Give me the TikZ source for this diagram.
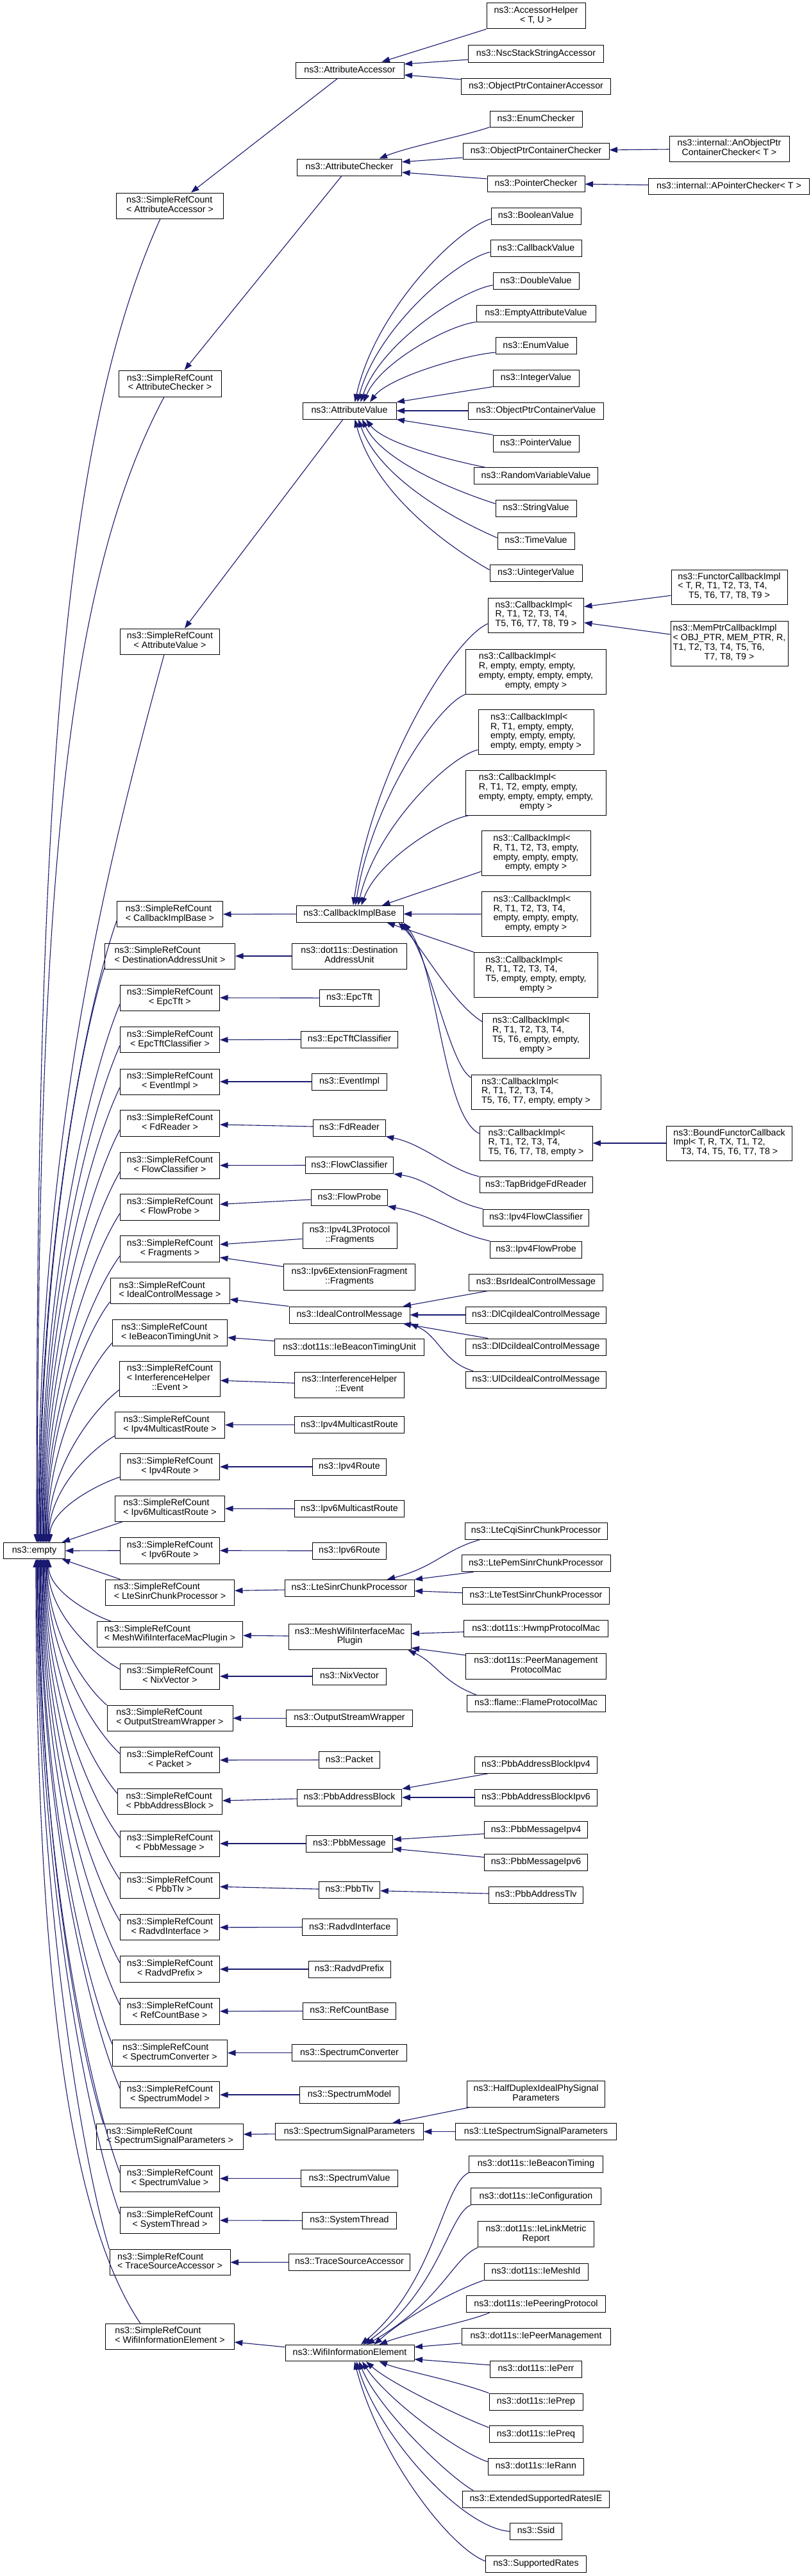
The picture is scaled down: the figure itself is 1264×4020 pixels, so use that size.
\documentclass[tikz,border=0pt]{standalone}
\usepackage{fontspec}
\setmainfont{Liberation Sans}
\usetikzlibrary{arrows.meta}
\definecolor{mblue}{RGB}{25,25,112}
\newcommand{\lbl}[2]{\begin{tabular}{@{}l@{}}#1\\\multicolumn{1}{@{}c@{}}{#2}\end{tabular}}
\tikzset{
  bx/.style 2 args={draw=black,line width=1pt,fill=white,inner sep=0pt,minimum width=#1,minimum height=#2,font=\fontsize{14.2}{14.8}\selectfont,text height=10.2pt,text depth=3pt},
  mx/.style 2 args={draw=black,line width=1pt,fill=white,inner sep=0pt,minimum width=#1,minimum height=#2,font=\fontsize{14.2}{14.8}\selectfont},
  ed/.style={draw=mblue,line width=1.1pt,-{Triangle[length=12.5pt,width=9pt]}}
}
\begin{document}
\begin{tikzpicture}[x=1pt,y=-1pt]
\fill[white] (0,0) rectangle (1264,4020);
\useasboundingbox (0,0) rectangle (1264,4020);

% ---------- nodes ----------
\node[mx={154}{40}] (AccH) at (836,25) {\lbl{ns3::AccessorHelper}{< T, U >}};
\node[bx={211}{26}] (Nsc) at (836,84) {ns3::NscStackStringAccessor};
\node[bx={233}{25}] (OPCA) at (836,134.5) {ns3::ObjectPtrContainerAccessor};
\node[bx={169}{25}] (AA) at (545.5,109.5) {ns3::AttributeAccessor};
\node[bx={144}{25}] (EnumC) at (836,185.5) {ns3::EnumChecker};
\node[bx={228}{25}] (OPCC) at (836,235.5) {ns3::ObjectPtrContainerChecker};
\node[mx={187}{40}] (AnOPCC) at (1137.5,232) {\lbl{ns3::internal::AnObjectPtr}{ContainerChecker< T >}};
\node[bx={163}{26}] (AC) at (545,261) {ns3::AttributeChecker};
\node[bx={152}{25}] (PtrC) at (836,286.5) {ns3::PointerChecker};
\node[bx={251}{25}] (APtrC) at (1137,290.5) {ns3::internal::APointerChecker< T >};
\node[mx={167}{40}] (sAA) at (265,321) {\lbl{ns3::SimpleRefCount}{< AttributeAccessor >}};

\node[bx={140}{26}] (BoolV) at (836,337) {ns3::BooleanValue};
\node[bx={142}{26}] (CbV) at (836,387.7) {ns3::CallbackValue};
\node[bx={134}{26}] (DblV) at (836,438.5) {ns3::DoubleValue};
\node[bx={186}{26}] (EmptyAV) at (836,489) {ns3::EmptyAttributeValue};
\node[bx={126}{26}] (EnumV) at (836,539.7) {ns3::EnumValue};
\node[bx={134}{26}] (IntV) at (836,590) {ns3::IntegerValue};
\node[bx={211}{26}] (OPCV) at (836,641) {ns3::ObjectPtrContainerValue};
\node[bx={146}{26}] (AV) at (545,641) {ns3::AttributeValue};
\node[mx={160}{41}] (sAC) at (265,598.5) {\lbl{ns3::SimpleRefCount}{< AttributeChecker >}};
\node[bx={134}{26}] (PtrV) at (836,692) {ns3::PointerValue};
\node[bx={193}{26}] (RVV) at (836,742.7) {ns3::RandomVariableValue};
\node[bx={126}{26}] (StrV) at (836,793) {ns3::StringValue};
\node[bx={120}{26}] (TimeV) at (836,844) {ns3::TimeValue};
\node[bx={144}{26}] (UIntV) at (836,894) {ns3::UintegerValue};

\node[mx={181}{54}] (Functor) at (1137.5,916) {\lbl{ns3::FunctorCallbackImpl\\< T, R, T1, T2, T3, T4,}{T5, T6, T7, T8, T9 >}};
\node[mx={149}{54}] (CbT9) at (836,960) {\lbl{ns3::CallbackImpl<\\ R, T1, T2, T3, T4,}{T5, T6, T7, T8, T9 >}};
\node[mx={183}{70}] (MemPtr) at (1137.5,1004) {\lbl{ns3::MemPtrCallbackImpl\\< OBJ\_PTR, MEM\_PTR, R,\\T1, T2, T3, T4, T5, T6,}{T7, T8, T9 >}};
\node[mx={155}{40}] (sAV) at (265,1001) {\lbl{ns3::SimpleRefCount}{< AttributeValue >}};
\node[mx={219}{70}] (CbE0) at (836,1048) {\lbl{ns3::CallbackImpl<\\ R, empty, empty, empty,\\ empty, empty, empty, empty,}{empty, empty >}};
\node[mx={180}{70}] (CbE1) at (836,1142.5) {\lbl{ns3::CallbackImpl<\\ R, T1, empty, empty,\\ empty, empty, empty,}{empty, empty, empty >}};
\node[mx={219}{70}] (CbE2) at (836,1237) {\lbl{ns3::CallbackImpl<\\ R, T1, T2, empty, empty,\\ empty, empty, empty, empty,}{empty >}};
\node[mx={170}{70}] (CbE3) at (836,1331.7) {\lbl{ns3::CallbackImpl<\\ R, T1, T2, T3, empty,\\ empty, empty, empty,}{empty, empty >}};
\node[mx={165}{40}] (sCIB) at (265,1426.7) {\lbl{ns3::SimpleRefCount}{< CallbackImplBase >}};
\node[bx={167}{26}] (CIB) at (545.5,1426.3) {ns3::CallbackImplBase};
\node[mx={170}{70}] (CbE4) at (836,1426.5) {\lbl{ns3::CallbackImpl<\\ R, T1, T2, T3, T4,\\ empty, empty, empty,}{empty, empty >}};
\node[mx={203}{40}] (sDAU) at (265,1492) {\lbl{ns3::SimpleRefCount}{< DestinationAddressUnit >}};
\node[mx={179.5}{40}] (DAU) at (545,1492) {\lbl{ns3::dot11s::Destination}{AddressUnit}};
\node[mx={193}{70}] (CbE5) at (836,1521.3) {\lbl{ns3::CallbackImpl<\\ R, T1, T2, T3, T4,\\ T5, empty, empty, empty,}{empty >}};
\node[mx={155}{40}] (sEpcTft) at (265,1557) {\lbl{ns3::SimpleRefCount}{< EpcTft >}};
\node[bx={92.5}{25.5}] (EpcTft) at (545,1557.3) {ns3::EpcTft};
\node[mx={167}{70}] (CbE6) at (836,1616) {\lbl{ns3::CallbackImpl<\\ R, T1, T2, T3, T4,\\ T5, T6, empty, empty,}{empty >}};
\node[mx={155}{40}] (sEpcTftC) at (265,1622.7) {\lbl{ns3::SimpleRefCount}{< EpcTftClassifier >}};
\node[bx={151}{26}] (EpcTftC) at (545,1622.2) {ns3::EpcTftClassifier};
\node[mx={155}{40}] (sEvent) at (265,1688) {\lbl{ns3::SimpleRefCount}{< EventImpl >}};
\node[bx={117}{26}] (EventImpl) at (545,1688) {ns3::EventImpl};
\node[mx={202}{54}] (CbE7) at (836,1704) {\lbl{ns3::CallbackImpl<\\ R, T1, T2, T3, T4,}{T5, T6, T7, empty, empty >}};
\node[mx={155}{41}] (sFd) at (265,1753) {\lbl{ns3::SimpleRefCount}{< FdReader >}};
\node[bx={112.5}{26}] (FdReader) at (545,1760) {ns3::FdReader};
\node[mx={176}{54}] (CbE8) at (836,1784) {\lbl{ns3::CallbackImpl<\\ R, T1, T2, T3, T4,}{T5, T6, T7, T8, empty >}};
\node[mx={196}{54}] (BoundF) at (1137.6,1784) {\lbl{ns3::BoundFunctorCallback\\Impl< T, R, TX, T1, T2,}{T3, T4, T5, T6, T7, T8 >}};
\node[mx={155}{41}] (sFlowC) at (265,1818.7) {\lbl{ns3::SimpleRefCount}{< FlowClassifier >}};
\node[bx={137.5}{26}] (FlowC) at (545,1818.5) {ns3::FlowClassifier};
\node[bx={176}{25}] (TapBridge) at (836,1849) {ns3::TapBridgeFdReader};
\node[mx={155}{41}] (sFlowP) at (265,1883.7) {\lbl{ns3::SimpleRefCount}{< FlowProbe >}};
\node[bx={118.5}{25}] (FlowP) at (545,1869.3) {ns3::FlowProbe};
\node[bx={164.5}{26}] (Ipv4FlowC) at (836,1900) {ns3::Ipv4FlowClassifier};
\node[mx={147}{40}] (Ipv4L3F) at (545.5,1928) {\lbl{ns3::Ipv4L3Protocol}{::Fragments}};
\node[mx={155}{41}] (sFrag) at (265,1949) {\lbl{ns3::SimpleRefCount}{< Fragments >}};
\node[bx={143.6}{26}] (Ipv4FlowP) at (836,1950) {ns3::Ipv4FlowProbe};
\node[mx={204.5}{40.5}] (Ipv6EF) at (545,1993) {\lbl{ns3::Ipv6ExtensionFragment}{::Fragments}};
\node[bx={208.5}{26}] (BsrICM) at (836,2001) {ns3::BsrIdealControlMessage};
\node[mx={186}{40}] (sICM) at (265,2014.5) {\lbl{ns3::SimpleRefCount}{< IdealControlMessage >}};
\node[bx={188}{26}] (ICM) at (545,2052) {ns3::IdealControlMessage};
\node[bx={219}{26}] (DlCqi) at (836,2052) {ns3::DlCqiIdealControlMessage};
\node[mx={179}{41}] (sIBTU) at (265,2079.7) {\lbl{ns3::SimpleRefCount}{< IeBeaconTimingUnit >}};
\node[bx={232.5}{26}] (IBTU) at (545,2102.5) {ns3::dot11s::IeBeaconTimingUnit};
\node[bx={219}{26}] (DlDci) at (836,2102) {ns3::DlDciIdealControlMessage};
\node[bx={219}{26}] (UlDci) at (836,2153) {ns3::UlDciIdealControlMessage};
\node[mx={156.5}{55}] (sIHE) at (265,2151.8) {\lbl{ns3::SimpleRefCount\\< InterferenceHelper}{::Event >}};
\node[mx={171.5}{40}] (IHE) at (545,2161) {\lbl{ns3::InterferenceHelper}{::Event}};
\node[mx={171}{41}] (sIpv4MR) at (265,2223.7) {\lbl{ns3::SimpleRefCount}{< Ipv4MulticastRoute >}};
\node[bx={171.5}{26}] (Ipv4MR) at (545,2223.7) {ns3::Ipv4MulticastRoute};
\node[mx={155}{41}] (sIpv4R) at (265,2289) {\lbl{ns3::SimpleRefCount}{< Ipv4Route >}};
\node[bx={115}{26}] (Ipv4R) at (545,2289) {ns3::Ipv4Route};
\node[mx={171}{40}] (sIpv6MR) at (265,2354.3) {\lbl{ns3::SimpleRefCount}{< Ipv6MulticastRoute >}};
\node[bx={171.5}{26}] (Ipv6MR) at (545,2354.5) {ns3::Ipv6MulticastRoute};
\node[bx={222}{26}] (LteCqi) at (836,2389) {ns3::LteCqiSinrChunkProcessor};
\node[bx={95.6}{25.5}] (empty) at (53.5,2420) {ns3::empty};
\node[mx={155}{41}] (sIpv6R) at (265,2419.7) {\lbl{ns3::SimpleRefCount}{< Ipv6Route >}};
\node[bx={115}{26}] (Ipv6R) at (545,2420) {ns3::Ipv6Route};
\node[bx={232}{26}] (LtePem) at (836,2439.7) {ns3::LtePemSinrChunkProcessor};
\node[mx={201}{40}] (sLSCP) at (265,2485) {\lbl{ns3::SimpleRefCount}{< LteSinrChunkProcessor >}};
\node[bx={202}{26}] (LSCP) at (545,2478.3) {ns3::LteSinrChunkProcessor};
\node[bx={228.5}{26}] (LteTest) at (836,2490) {ns3::LteTestSinrChunkProcessor};
\node[mx={227.5}{40}] (sMWIMP) at (265,2550.5) {\lbl{ns3::SimpleRefCount}{< MeshWifiInterfaceMacPlugin >}};
\node[mx={191}{40}] (MWIMP) at (545.5,2554.5) {\lbl{ns3::MeshWifiInterfaceMac}{Plugin}};
\node[bx={224.5}{26}] (Hwmp) at (836,2541.5) {ns3::dot11s::HwmpProtocolMac};
\node[mx={219}{40}] (PMPM) at (836,2600) {\lbl{ns3::dot11s::PeerManagement}{ProtocolMac}};
\node[mx={155}{40}] (sNix) at (265,2616) {\lbl{ns3::SimpleRefCount}{< NixVector >}};
\node[bx={115}{26}] (Nix) at (545,2616) {ns3::NixVector};
\node[bx={216}{26}] (Flame) at (836,2658.3) {ns3::flame::FlameProtocolMac};
\node[mx={196}{40}] (sOSW) at (265,2681.3) {\lbl{ns3::SimpleRefCount}{< OutputStreamWrapper >}};
\node[bx={197.5}{25.5}] (OSW) at (545,2681.3) {ns3::OutputStreamWrapper};
\node[mx={155}{40}] (sPacket) at (265,2746.7) {\lbl{ns3::SimpleRefCount}{< Packet >}};
\node[bx={95.5}{25.5}] (Packet) at (545,2746.5) {ns3::Packet};
\node[bx={191.5}{26}] (PABv4) at (836,2754.3) {ns3::PbbAddressBlockIpv4};
\node[mx={163}{40}] (sPAB) at (265,2811.8) {\lbl{ns3::SimpleRefCount}{< PbbAddressBlock >}};
\node[bx={163.5}{26}] (PAB) at (545,2805) {ns3::PbbAddressBlock};
\node[bx={191.5}{26}] (PABv6) at (836,2805) {ns3::PbbAddressBlockIpv6};
\node[bx={160.5}{26}] (PMv4) at (836,2855.7) {ns3::PbbMessageIpv4};
\node[mx={155}{40}] (sPM) at (265,2877) {\lbl{ns3::SimpleRefCount}{< PbbMessage >}};
\node[bx={135.5}{26}] (PM) at (545,2877) {ns3::PbbMessage};
\node[bx={160.5}{26}] (PMv6) at (836,2906.3) {ns3::PbbMessageIpv6};
\node[mx={155}{40}] (sPbbTlv) at (265,2942.5) {\lbl{ns3::SimpleRefCount}{< PbbTlv >}};
\node[bx={95.5}{26}] (PbbTlv) at (545,2949) {ns3::PbbTlv};
\node[bx={147.5}{26}] (PATlv) at (836,2957) {ns3::PbbAddressTlv};
\node[mx={155}{40}] (sRadvdI) at (265,3007.8) {\lbl{ns3::SimpleRefCount}{< RadvdInterface >}};
\node[bx={148.5}{26}] (RadvdI) at (545.7,3007.5) {ns3::RadvdInterface};
\node[mx={155}{41}] (sRadvdP) at (265,3073) {\lbl{ns3::SimpleRefCount}{< RadvdPrefix >}};
\node[bx={128}{26}] (RadvdP) at (545,3073) {ns3::RadvdPrefix};
\node[mx={155}{41}] (sRCB) at (265,3138.7) {\lbl{ns3::SimpleRefCount}{< RefCountBase >}};
\node[bx={144.5}{26}] (RCB) at (545,3138.3) {ns3::RefCountBase};
\node[mx={179}{41}] (sSC) at (265,3203.7) {\lbl{ns3::SimpleRefCount}{< SpectrumConverter >}};
\node[bx={179.5}{26}] (SC) at (545,3203.7) {ns3::SpectrumConverter};
\node[mx={155}{41}] (sSM) at (265,3269) {\lbl{ns3::SimpleRefCount}{< SpectrumModel >}};
\node[bx={155.5}{26}] (SM) at (545,3269) {ns3::SpectrumModel};
\node[mx={215.5}{41}] (HalfDup) at (836,3267.7) {\lbl{ns3::HalfDuplexIdealPhySignal}{Parameters}};
\node[mx={228.5}{40}] (sSSP) at (265,3334.5) {\lbl{ns3::SimpleRefCount}{< SpectrumSignalParameters >}};
\node[bx={230.5}{26}] (SSP) at (545,3326.5) {ns3::SpectrumSignalParameters};
\node[bx={250.5}{26}] (LteSSP) at (836,3326.5) {ns3::LteSpectrumSignalParameters};
\node[bx={208.5}{26}] (IeBT) at (836,3377) {ns3::dot11s::IeBeaconTiming};
\node[mx={155}{41}] (sSV) at (265,3399.7) {\lbl{ns3::SimpleRefCount}{< SpectrumValue >}};
\node[bx={151.5}{26}] (SV) at (545,3399.7) {ns3::SpectrumValue};
\node[bx={202.5}{26}] (IeConf) at (836,3427.7) {ns3::dot11s::IeConfiguration};
\node[mx={155}{41}] (sST) at (265,3465) {\lbl{ns3::SimpleRefCount}{< SystemThread >}};
\node[bx={147.5}{26}] (ST) at (545,3465.3) {ns3::SystemThread};
\node[mx={180.5}{40}] (IeLMR) at (836,3486.8) {\lbl{ns3::dot11s::IeLinkMetric}{Report}};
\node[mx={188}{40}] (sTSA) at (265,3530.5) {\lbl{ns3::SimpleRefCount}{< TraceSourceAccessor >}};
\node[bx={189.5}{26}] (TSA) at (545,3530.3) {ns3::TraceSourceAccessor};
\node[bx={162}{26}] (IeMeshId) at (836,3545) {ns3::dot11s::IeMeshId};
\node[bx={216.3}{26}] (IePP) at (836,3595.7) {ns3::dot11s::IePeeringProtocol};
\node[mx={200.5}{40}] (sWIE) at (265,3646.3) {\lbl{ns3::SimpleRefCount}{< WifiInformationElement >}};
\node[bx={232}{26}] (IePM) at (836,3646.2) {ns3::dot11s::IePeerManagement};
\node[bx={201}{25.5}] (WIE) at (545.5,3672) {ns3::WifiInformationElement};
\node[bx={143.5}{26}] (IePerr) at (836,3697.3) {ns3::dot11s::IePerr};
\node[bx={146}{26}] (IePrep) at (836,3748) {ns3::dot11s::IePrep};
\node[bx={146}{26}] (IePreq) at (836,3798.5) {ns3::dot11s::IePreq};
\node[bx={149}{26}] (IeRann) at (836,3849) {ns3::dot11s::IeRann};
\node[bx={228.5}{26}] (ExtSR) at (836,3900) {ns3::ExtendedSupportedRatesIE};
\node[bx={81.3}{26}] (Ssid) at (836,3950.3) {ns3::Ssid};
\node[bx={157.4}{26}] (SuppR) at (836,4001) {ns3::SupportedRates};

% ---------- edges ----------
\draw[ed] (AccH.south west) -- ([xshift=50]AA.north);
\draw[ed] ([yshift=-9]Nsc.west) -- ([yshift=9.5]AA.east);
\draw[ed] ([yshift=10.5]OPCA.west) -- ([yshift=-7.5]AA.east);
\draw[ed] ([xshift=-19]AA.south) -- ([xshift=33]sAA.north);

\draw[ed] (EnumC.south west) .. controls (725,212) and (640,228) .. ([xshift=46.5]AC.north);
\draw[ed] ([yshift=-10.5]OPCC.west) -- ([yshift=8.3]AC.east);
\draw[ed] ([yshift=7.5]PtrC.west) -- ([yshift=-8]AC.east);
\draw[ed] ([yshift=-1]AnOPCC.west) -- ([yshift=1.5]OPCC.east);
\draw[ed] ([yshift=1.8]APtrC.west) -- ([yshift=-0.8]PtrC.east);
\draw[ed] ([xshift=-12]AC.south) -- ([xshift=22.7]sAC.north);

\draw[ed] ([yshift=-4.7]BoolV.west) .. controls (713,356) and (585,485) .. ([xshift=8.5]AV.north);
\draw[ed] ([yshift=-5.6]CbV.west) .. controls (713,405) and (588.5,511) .. ([xshift=12.5]AV.north);
\draw[ed] ([yshift=-6.5]DblV.west) .. controls (717,454) and (593.4,536.5) .. ([xshift=17.4]AV.north);
\draw[ed] (EmptyAV.south west) .. controls (699,508) and (593.4,565) .. ([xshift=22]AV.north);
\draw[ed] ([yshift=-10.3]EnumV.west) .. controls (724,554) and (606,589) .. ([xshift=32]AV.north);
\draw[ed] (IntV.south west) -- (AV.north east);
\draw[ed] (OPCV.west) -- (AV.east);
\draw[ed] (PtrV.north west) -- (AV.south east);
\draw[ed] ([xshift=17.7]RVV.north west) .. controls (701.7,718.3) and (599,692) .. ([xshift=26]AV.south);
\draw[ed] ([yshift=7]StrV.west) .. controls (710,766) and (596,720) .. ([xshift=20]AV.south);
\draw[ed] ([yshift=4.7]TimeV.west) .. controls (711,811.6) and (591.5,746.5) .. ([xshift=14]AV.south);
\draw[ed] ([yshift=4.7]UIntV.west) .. controls (701,854) and (585,771.5) .. ([xshift=8.5]AV.south);
\draw[ed] ([xshift=-10]AV.south) -- ([xshift=23]sAV.north);

\draw[ed] ([yshift=-13.3]CbT9.west) .. controls (709,995) and (582.7,1193.7) .. ([xshift=5.5]CIB.north);
\draw[ed] (CbE0.south west) .. controls (684,1099.5) and (580.4,1248) .. ([xshift=9]CIB.north);
\draw[ed] ([yshift=-27.5]CbE1.west) .. controls (698.8,1182) and (586.5,1291.8) .. ([xshift=13]CIB.north);
\draw[ed] ([xshift=6]CbE2.south west) .. controls (690.6,1279) and (589,1343) .. ([xshift=18]CIB.north);
\draw[ed] ([yshift=-28.3]CbE3.west) -- ([xshift=50.5]CIB.north);
\draw[ed] (CbE4.west) -- (CIB.east);
\draw[ed] (CbE5.north west) -- ([xshift=58]CIB.south);
\draw[ed] ([yshift=21.7]CbE6.west) .. controls (705,1565) and (660,1480) .. ([xshift=-8]CIB.south east);
\draw[ed] ([yshift=22.3]CbE7.west) .. controls (700,1660) and (672,1495) .. ([xshift=-4]CIB.south east);
\draw[ed] ([yshift=15]CbE8.west) .. controls (690,1740) and (684,1510) .. (CIB.south east);
\draw[ed] (CIB.west) -- (sCIB.east);
\draw[ed] ([yshift=-13.3]Functor.west) -- ([yshift=13.3]CbT9.east);
\draw[ed] ([yshift=14]MemPtr.west) -- ([yshift=-11.7]CbT9.east);
\draw[ed] (BoundF.west) -- (CbE8.east);

\draw[ed] (DAU.west) -- (sDAU.east);
\draw[ed] (EpcTft.west) -- (sEpcTft.east);
\draw[ed] (EpcTftC.west) -- (sEpcTftC.east);
\draw[ed] (EventImpl.west) -- (sEvent.east);
\draw[ed] ([yshift=2]FdReader.west) -- ([yshift=-2]sFd.east);
\draw[ed] (TapBridge.north west) .. controls (700,1825) and (660,1785) .. (FdReader.south east);
\draw[ed] (FlowC.west) -- (sFlowC.east);
\draw[ed] (Ipv4FlowC.north west) .. controls (700,1875) and (670,1840) .. (FlowC.south east);
\draw[ed] ([yshift=-2.7]FlowP.west) -- ([yshift=4.4]sFlowP.east);
\draw[ed] (Ipv4FlowP.north west) .. controls (710,1925) and (670,1895) .. (FlowP.south east);
\draw[ed] ([yshift=-5.3]Ipv4L3F.west) -- ([yshift=7]sFrag.east);
\draw[ed] ([yshift=16.3]Ipv6EF.west) -- ([yshift=-13.3]sFrag.east);

\draw[ed] (ICM.north west) -- ([yshift=-13.2]sICM.east);
\draw[ed] ([xshift=30]BsrICM.south west) -- ([xshift=-11]ICM.north east);
\draw[ed] (DlCqi.west) -- (ICM.east);
\draw[ed] ([xshift=35]DlDci.north west) -- ([xshift=-11]ICM.south east);
\draw[ed] ([xshift=12]UlDci.north west) .. controls (690,2125) and (685,2085) .. (ICM.south east);
\draw[ed] ([yshift=9.8]IBTU.west) -- ([yshift=-7.6]sIBTU.east);
\draw[ed] ([yshift=2.7]IHE.west) -- ([yshift=-2.5]sIHE.east);
\draw[ed] (Ipv4MR.west) -- (sIpv4MR.east);
\draw[ed] (Ipv4R.west) -- (sIpv4R.east);
\draw[ed] (Ipv6MR.west) -- (sIpv6MR.east);
\draw[ed] (Ipv6R.west) -- (sIpv6R.east);
\draw[ed] (sIpv6R.west) -- (empty.east);

\draw[ed] ([yshift=-2.7]LSCP.west) -- ([yshift=2.7]sLSCP.east);
\draw[ed] ([xshift=24.6]LteCqi.south west) .. controls (690,2420) and (680,2445) .. ([xshift=58.7]LSCP.north);
\draw[ed] ([xshift=19]LtePem.south west) -- (LSCP.north east);
\draw[ed] ([yshift=4.3]LteTest.west) -- ([yshift=-4.4]LSCP.east);

\draw[ed] ([yshift=1.5]MWIMP.west) -- ([yshift=-1.8]sMWIMP.east);
\draw[ed] ([yshift=-5.2]Hwmp.west) -- ([yshift=5.2]MWIMP.east);
\draw[ed] ([yshift=17]PMPM.west) -- ([yshift=-17.2]MWIMP.east);
\draw[ed] ([xshift=15.3]Flame.north west) .. controls (690,2625) and (680,2595) .. ([xshift=-5]MWIMP.south east);
\draw[ed] (Nix.west) -- (sNix.east);
\draw[ed] (OSW.west) -- (sOSW.east);
\draw[ed] (Packet.west) -- (sPacket.east);
\draw[ed] ([yshift=-2]PAB.west) -- ([yshift=1.8]sPAB.east);
\draw[ed] ([xshift=21.4]PABv4.south west) -- (PAB.north east);
\draw[ed] (PABv6.west) -- (PAB.east);
\draw[ed] (PM.west) -- (sPM.east);
\draw[ed] ([yshift=-6]PMv4.west) -- ([yshift=6.3]PM.east);
\draw[ed] ([yshift=8]PMv6.west) -- ([yshift=-8]PM.east);
\draw[ed] ([yshift=1]PbbTlv.west) -- ([yshift=-1.8]sPbbTlv.east);
\draw[ed] ([yshift=2]PATlv.west) -- ([yshift=-1.7]PbbTlv.east);
\draw[ed] (RadvdI.west) -- (sRadvdI.east);
\draw[ed] (RadvdP.west) -- (sRadvdP.east);
\draw[ed] (RCB.west) -- (sRCB.east);
\draw[ed] (SC.west) -- (sSC.east);
\draw[ed] (SM.west) -- (sSM.east);
\draw[ed] ([yshift=-3.5]SSP.west) -- ([yshift=3.8]sSSP.east);
\draw[ed] ([xshift=4.5]HalfDup.south west) -- ([xshift=67]SSP.north);
\draw[ed] (LteSSP.west) -- (SSP.east);
\draw[ed] (SV.west) -- (sSV.east);
\draw[ed] (ST.west) -- (sST.east);
\draw[ed] (TSA.west) -- (sTSA.east);
\draw[ed] ([yshift=9.3]WIE.west) -- ([yshift=-8.7]sWIE.east);

\draw[ed] (IeBT.south west) .. controls (690,3410) and (680,3560) .. ([xshift=17.5]WIE.north);
\draw[ed] (IeConf.south west) .. controls (700,3455) and (685,3575) .. ([xshift=21.5]WIE.north);
\draw[ed] (IeLMR.south west) .. controls (705,3525) and (690,3590) .. ([xshift=26.5]WIE.north);
\draw[ed] (IeMeshId.south west) .. controls (715,3572) and (640,3610) .. ([xshift=38]WIE.north);
\draw[ed] ([xshift=36]IePP.south west) .. controls (725,3625) and (640,3640) .. ([xshift=46]WIE.north);
\draw[ed] ([yshift=-10.5]IePM.west) -- ([yshift=9.3]WIE.east);
\draw[ed] ([yshift=6.6]IePerr.west) -- ([yshift=-9.7]WIE.east);
\draw[ed] (IePrep.north west) .. controls (710,3715) and (630,3700) .. ([xshift=46]WIE.south);
\draw[ed] ([yshift=10.2]IePreq.west) .. controls (715,3770) and (610,3720) .. ([xshift=25.5]WIE.south);
\draw[ed] ([yshift=7.3]IeRann.west) .. controls (710,3825) and (600,3740) .. ([xshift=19.5]WIE.south);
\draw[ed] ([xshift=17]ExtSR.north west) .. controls (700,3865) and (590,3760) .. ([xshift=14.5]WIE.south);
\draw[ed] (Ssid.west) .. controls (720,3945) and (590,3800) .. ([xshift=10.5]WIE.south);
\draw[ed] ([yshift=4.3]SuppR.west) .. controls (700,3975) and (590,3830) .. ([xshift=7.5]WIE.south);

% to ns3::empty, from above
\draw[ed] ([xshift=-15]sAA.south) .. controls (91.7,692) and (57,1291) .. ([xshift=3.5]empty.north);
\draw[ed] ([xshift=-9]sAC.south) .. controls (93.9,923) and (58.3,1441) .. ([xshift=4.8]empty.north);
\draw[ed] ([xshift=-9]sAV.south) .. controls (153.9,1395.2) and (59.6,1797.2) .. ([xshift=6.1]empty.north);
\draw[ed] ([yshift=-10.3]sCIB.west) .. controls (140.3,1553.4) and (60.9,1922.2) .. ([xshift=7.4]empty.north);
\draw[ed] ([yshift=-18]sDAU.west) .. controls (128.4,1617.7) and (62.2,1958.7) .. ([xshift=8.7]empty.north);
\draw[ed] ([yshift=-10]sEpcTft.west) .. controls (144.4,1667.8) and (63.5,1987.2) .. ([xshift=10]empty.north);
\draw[ed] ([yshift=-9]sEpcTftC.west) .. controls (144.9,1724.8) and (64.8,2019.5) .. ([xshift=11.3]empty.north);
\draw[ed] ([yshift=-9]sEvent.west) .. controls (145.3,1782.2) and (66.1,2052.2) .. ([xshift=12.6]empty.north);
\draw[ed] ([yshift=-10]sFd.west) .. controls (145.8,1840.3) and (67.4,2085.2) .. ([xshift=13.9]empty.north);
\draw[ed] ([yshift=-10]sFlowC.west) .. controls (146.2,1898.1) and (68.7,2118) .. ([xshift=15.2]empty.north);
\draw[ed] ([yshift=-10]sFlowP.west) .. controls (146.7,1955.3) and (70,2150.5) .. ([xshift=16.5]empty.north);
\draw[ed] ([yshift=-11]sFrag.west) .. controls (147.2,2013.7) and (71.3,2183.7) .. ([xshift=17.8]empty.north);
\draw[ed] ([yshift=-17]sICM.west) .. controls (137.2,2076.6) and (72.6,2219.4) .. ([xshift=19.1]empty.north);
\draw[ed] ([yshift=-16]sIBTU.west) .. controls (140.3,2133.1) and (73.9,2251.5) .. ([xshift=20.4]empty.north);
\draw[ed] ([yshift=-17]sIHE.west) .. controls (147.5,2197.6) and (75.2,2288.2) .. ([xshift=21.7]empty.north);
\draw[ed] ([yshift=-17]sIpv4MR.west) .. controls (143.8,2260.7) and (76.5,2324) .. ([xshift=23]empty.north);
\draw[ed] ([yshift=-16]sIpv4R.west) .. controls (149.4,2317.3) and (77.8,2356.2) .. ([xshift=24.3]empty.north);
\draw[ed] ([xshift=12]sIpv6MR.south west) -- ([xshift=-5]empty.north east);

% to ns3::empty, from below
\draw[ed] ([xshift=23.5]sLSCP.north west) -- ([xshift=-5]empty.south east);
\draw[ed] ([xshift=22.5]sMWIMP.north west) .. controls (139.7,2518.6) and (76,2481.5) .. ([xshift=22.5]empty.south);
\draw[ed] ([yshift=11]sNix.west) .. controls (148.4,2584.3) and (74.75,2518.8) .. ([xshift=21.25]empty.south);
\draw[ed] (sOSW.north west) .. controls (134.3,2633.9) and (73.5,2547) .. ([xshift=20]empty.south);
\draw[ed] ([yshift=10]sPacket.west) .. controls (147.5,2700.2) and (72.25,2584.7) .. ([xshift=18.75]empty.south);
\draw[ed] ([yshift=13]sPAB.west) .. controls (144.4,2755) and (71,2615.8) .. ([xshift=17.5]empty.south);
\draw[ed] ([yshift=9]sPM.west) .. controls (146.6,2815.8) and (69.75,2650.3) .. ([xshift=16.25]empty.south);
\draw[ed] ([yshift=9.5]sPbbTlv.west) .. controls (146.2,2873) and (68.5,2682.8) .. ([xshift=15]empty.south);
\draw[ed] ([yshift=10]sRadvdI.west) .. controls (145.7,2930) and (67.25,2715.3) .. ([xshift=13.75]empty.south);
\draw[ed] ([yshift=10]sRadvdP.west) .. controls (145.3,2987.4) and (66,2747.9) .. ([xshift=12.5]empty.south);
\draw[ed] ([yshift=10]sRCB.west) .. controls (144.9,3045.2) and (64.75,2780.7) .. ([xshift=11.25]empty.south);
\draw[ed] ([yshift=13.7]sSC.west) .. controls (136.6,3099.1) and (63.5,2811.4) .. ([xshift=10]empty.south);
\draw[ed] ([yshift=10]sSM.west) .. controls (144,3159.8) and (62.25,2845.9) .. ([xshift=8.75]empty.south);
\draw[ed] ([xshift=11]sSSP.north west) .. controls (126.5,3208.5) and (61,2873.5) .. ([xshift=7.5]empty.south);
\draw[ed] ([yshift=9]sSV.west) .. controls (143.1,3275.7) and (59.75,2911.7) .. ([xshift=6.25]empty.south);
\draw[ed] ([yshift=10]sST.west) .. controls (142.7,3332.3) and (58.5,2943.9) .. ([xshift=5]empty.south);
\draw[ed] (sTSA.north west) .. controls (131.2,3381) and (57.25,2971.5) .. ([xshift=3.75]empty.south);
\draw[ed] ([xshift=-46]sWIE.north) .. controls (100,3450) and (56,3029.5) .. ([xshift=2.5]empty.south);
\end{tikzpicture}
\end{document}
